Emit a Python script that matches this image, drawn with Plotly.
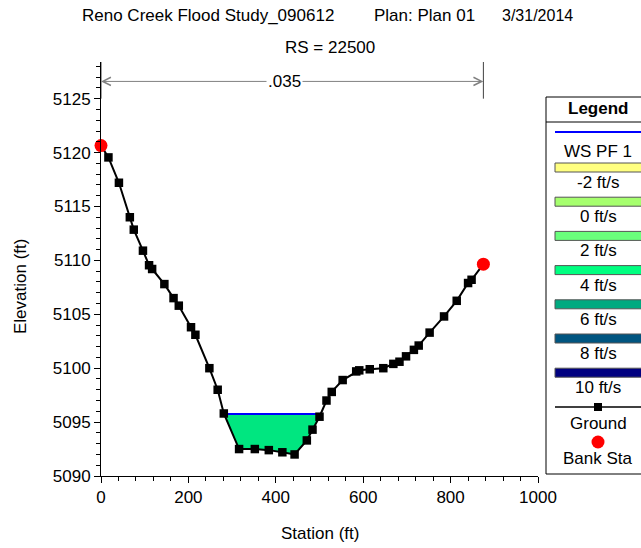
import plotly.graph_objects as go

# ---------------- data ----------------
station = [0, 17, 41, 66, 75, 96, 110, 117, 145, 166, 178, 206, 216, 248, 267, 281,
           316, 352, 384, 415, 443, 471, 484, 500, 516, 528, 553, 584, 591, 615, 646,
           669, 683, 698, 716, 727, 752, 785, 814, 840, 848, 875]
elevation = [5120.65, 5119.55, 5117.2, 5114.0, 5112.85, 5110.9, 5109.55, 5109.2, 5107.8,
             5106.5, 5105.8, 5103.8, 5103.1, 5100.0, 5098.0, 5095.8, 5092.5, 5092.5,
             5092.4, 5092.2, 5092.0, 5093.3, 5094.3, 5095.5, 5097.0, 5097.8, 5098.9,
             5099.7, 5099.8, 5099.9, 5100.0, 5100.4, 5100.6, 5101.1, 5101.7, 5102.1,
             5103.3, 5104.8, 5106.25, 5107.9, 5108.2, 5109.65]
bank_station = [0, 875]
bank_elev = [5120.65, 5109.65]
ws_elev = 5095.75
n_value = ".035"
n_stations = [0, 875]
n_elev = 5126.6

legend_labels = ["-2 ft/s", "0 ft/s", "2 ft/s", "4 ft/s", "6 ft/s", "8 ft/s", "10 ft/s"]
legend_colors = ["#FFFF80", "#A6FF6E", "#6AFF7C", "#00FF80", "#00AA80", "#005580", "#000080"]
fill_color = "#00E680"

title1 = ["Reno Creek Flood Study_090612", "Plan: Plan 01", "3/31/2014"]
title2 = "RS = 22500"

FONT = "Liberation Sans, Arial, sans-serif"

# ---------------- layout geometry (pixels) ----------------
W, H = 641, 548
L, R, T, B = 101, 538, 62, 476


def px2x(px):
    return (px - L) / (R - L)


def px2y(py):
    return (B - py) / (B - T)


def label(px, py, text, size=17, xanchor="center", angle=0):
    return dict(x=px2x(px), y=px2y(py), xref="paper", yref="paper", text=text,
                showarrow=False, xanchor=xanchor, yanchor="middle", textangle=angle,
                font=dict(family=FONT, size=size, color="black"))


# water fill polygon derived from ground + WS
def crossing(i):
    x0, y0, x1, y1 = station[i], elevation[i], station[i + 1], elevation[i + 1]
    return x0 + (ws_elev - y0) * (x1 - x0) / (y1 - y0)


left_i = next(i for i in range(len(station) - 1)
              if elevation[i] >= ws_elev > elevation[i + 1])
right_i = next(i for i in range(len(station) - 1)
               if elevation[i] < ws_elev <= elevation[i + 1])
xl, xr = crossing(left_i), crossing(right_i)
fx = [xl] + station[left_i + 1:right_i + 1] + [xr, xl]
fy = [ws_elev] + elevation[left_i + 1:right_i + 1] + [ws_elev, ws_elev]

fig = go.Figure()
fig.add_trace(go.Scatter(x=fx, y=fy, mode="lines", fill="toself", fillcolor=fill_color,
                         line=dict(width=0, color=fill_color), hoverinfo="skip"))
fig.add_trace(go.Scatter(x=[xl, xr], y=[ws_elev, ws_elev], mode="lines",
                         line=dict(color="#0000FF", width=2)))
fig.add_trace(go.Scatter(x=station, y=elevation, mode="lines+markers", cliponaxis=False,
                         line=dict(color="black", width=2),
                         marker=dict(symbol="square", size=8.5, color="black")))
fig.add_trace(go.Scatter(x=bank_station, y=bank_elev, mode="markers", cliponaxis=False,
                         marker=dict(symbol="circle", size=13, color="#FF0000")))

shapes = []
annotations = []

# n-value indicator
for s in n_stations:
    shapes.append(dict(type="line", xref="x", yref="y", x0=s, x1=s, y0=5125.0, y1=5128.4,
                       line=dict(color="#404040", width=1)))
mid = 420
for s in n_stations:
    annotations.append(dict(x=s, y=n_elev, ax=mid, ay=n_elev, xref="x", yref="y",
                            axref="x", ayref="y", text="", showarrow=True, arrowhead=5,
                            arrowsize=1.6, arrowwidth=1, arrowcolor="#808080"))
annotations.append(dict(x=mid, y=n_elev, xref="x", yref="y", text=n_value, showarrow=False,
                        xanchor="center", yanchor="middle",
                        bgcolor="white", font=dict(family=FONT, size=17, color="black")))

# titles
for txt, px, sz in zip(title1, [80, 372, 500], [17, 17, 16]):
    annotations.append(label(px, 16, txt, size=sz, xanchor="left"))
annotations.append(label(330, 47, title2))

# axis titles
annotations.append(label(320, 533, "Station (ft)"))
annotations.append(label(20, 287, "Elevation (ft)", angle=-90))

# legend box
LX0, LX1 = 546, 660
CX = 598
shapes.append(dict(type="rect", xref="paper", yref="paper", x0=px2x(LX0), x1=px2x(LX1),
                   y0=px2y(474), y1=px2y(97), line=dict(color="black", width=1),
                   fillcolor="white", layer="below"))
shapes.append(dict(type="line", xref="paper", yref="paper", x0=px2x(LX0), x1=px2x(LX1),
                   y0=px2y(122), y1=px2y(122), line=dict(color="black", width=1)))
annotations.append(label(CX, 108, "<b>Legend</b>"))
shapes.append(dict(type="line", xref="paper", yref="paper", x0=px2x(555), x1=px2x(660),
                   y0=px2y(132), y1=px2y(132), line=dict(color="#0000FF", width=2)))
annotations.append(label(CX, 151, "WS PF 1"))
for k, (lab, col) in enumerate(zip(legend_labels, legend_colors)):
    top = 163 + 34.2 * k
    shapes.append(dict(type="rect", xref="paper", yref="paper", x0=px2x(555), x1=px2x(660),
                       y0=px2y(top + 9), y1=px2y(top), fillcolor=col,
                       line=dict(color="#555555", width=1)))
    annotations.append(label(CX, top + 19.5, lab))
shapes.append(dict(type="line", xref="paper", yref="paper", x0=px2x(555), x1=px2x(660),
                   y0=px2y(407), y1=px2y(407), line=dict(color="black", width=1.5)))
shapes.append(dict(type="rect", xref="paper", yref="paper", x0=px2x(CX - 4), x1=px2x(CX + 4),
                   y0=px2y(411), y1=px2y(403), fillcolor="black", line=dict(width=0)))
annotations.append(label(CX, 423, "Ground"))
shapes.append(dict(type="circle", xref="paper", yref="paper", x0=px2x(CX - 6.5), x1=px2x(CX + 6.5),
                   y0=px2y(448.5), y1=px2y(435.5), fillcolor="#FF0000", line=dict(width=0)))
annotations.append(label(CX, 458, "Bank Sta"))

fig.update_layout(
    width=W, height=H,
    margin=dict(l=L, r=W - R, t=T, b=H - B, pad=0),
    paper_bgcolor="white", plot_bgcolor="white",
    showlegend=False,
    font=dict(family=FONT, size=17, color="black"),
    shapes=shapes, annotations=annotations,
    xaxis=dict(range=[0, 1000], tickvals=[0, 200, 400, 600, 800, 1000],
               ticks="outside", ticklen=6, tickwidth=1, tickcolor="black",
               showline=True, linecolor="black", linewidth=1, showgrid=False,
               zeroline=False, tickfont=dict(family=FONT, size=17),
               minor=dict(dtick=40, tick0=0, ticks="outside", ticklen=4, tickcolor="black",
                          showgrid=False)),
    yaxis=dict(range=[5090, 5128.4], tickvals=[5090, 5095, 5100, 5105, 5110, 5115, 5120, 5125],
               ticks="outside", ticklen=6, tickwidth=1, tickcolor="black",
               showline=True, linecolor="black", linewidth=1, showgrid=False,
               zeroline=False, tickfont=dict(family=FONT, size=17),
               minor=dict(dtick=1, tick0=5090, ticks="outside", ticklen=4, tickcolor="black",
                          showgrid=False)),
)

fig.write_html("out.html")
